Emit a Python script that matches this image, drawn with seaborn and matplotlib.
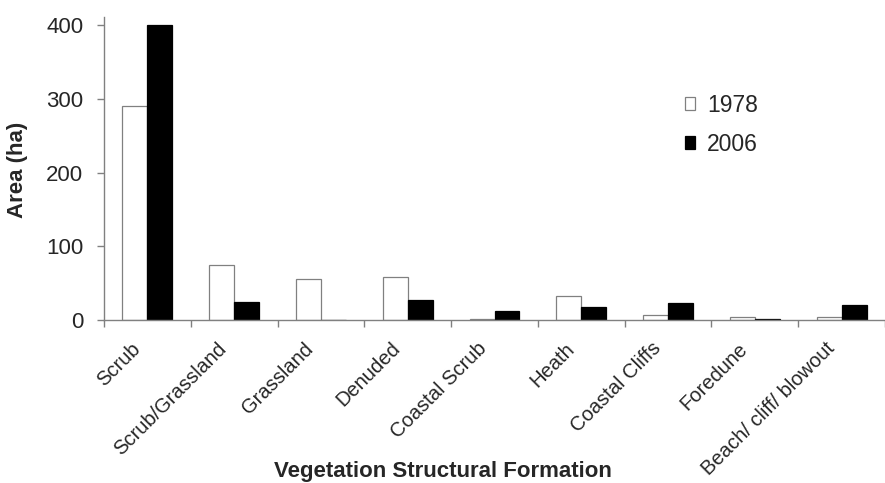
import matplotlib
matplotlib.use("Agg")
import matplotlib.pyplot as plt
import matplotlib.transforms as mtransforms
from matplotlib.ticker import FixedLocator
import seaborn as sns
import pandas as pd

categories = ["Scrub", "Scrub/Grassland", "Grassland", "Denuded", "Coastal Scrub",
              "Heath", "Coastal Cliffs", "Foredune", "Beach/ cliff/ blowout"]
area_1978 = [290, 74, 56, 58, 2, 33, 7, 4.5, 4.5]
area_2006 = [400, 25, 0, 27.5, 12, 17.5, 23, 2, 20]
years = ["1978", "2006"]

df = pd.DataFrame({
    "formation": categories * 2,
    "year": [years[0]] * len(categories) + [years[1]] * len(categories),
    "area": area_1978 + area_2006,
})

sns.set_style("white")
plt.rcParams["font.family"] = ["Liberation Sans", "DejaVu Sans"]

fig = plt.figure(figsize=(8.85, 4.83), dpi=100)
ax = fig.add_axes([104 / 885, 1 - 320 / 483, 781 / 885, 303 / 483])

sns.barplot(data=df, x="formation", y="area", hue="year", order=categories,
            hue_order=years, palette={"1978": "white", "2006": "black"},
            width=0.576, gap=0, edgecolor="black", linewidth=0.9, ax=ax)

# white bars get a grey outline
for p in ax.containers[0]:
    p.set_edgecolor("#808080")

ax.set_xlim(-0.5, len(categories) - 0.5)
ax.set_ylim(0, 411)
ax.set_yticks([0, 100, 200, 300, 400])

grey = "#808080"
sns.despine(ax=ax)
for s in ["left", "bottom"]:
    ax.spines[s].set_color(grey)
    ax.spines[s].set_linewidth(1.0)

ax.tick_params(axis="y", direction="out", length=5, width=1, color=grey,
               labelsize=16, pad=10, left=True)
ax.tick_params(axis="x", which="major", length=0, labelsize=14.5, pad=0)
ax.xaxis.set_minor_locator(FixedLocator([i - 0.5 for i in range(len(categories) + 1)]))
ax.tick_params(axis="x", which="minor", direction="out", length=5, width=1,
               color=grey, bottom=True)

offset = mtransforms.ScaledTranslation(-17 / 100, -19 / 100, fig.dpi_scale_trans)
ax.set_xticks(range(len(categories)))
ax.set_xticklabels(categories, rotation=45, ha="right", va="top",
                   rotation_mode="anchor", fontsize=14.5)
for lab in ax.get_xticklabels():
    lab.set_transform(lab.get_transform() + offset)

ax.set_xlabel("Vegetation Structural Formation", fontsize=16, fontweight="bold")
ax.xaxis.label.set_verticalalignment("baseline")
ax.xaxis.set_label_coords(0.5, 6 / 483, transform=fig.transFigure)
ax.set_ylabel("Area (ha)", fontsize=16, fontweight="bold")
ax.yaxis.set_label_coords(18 / 885, 0.5, transform=fig.transFigure)
ax.yaxis.label.set_verticalalignment("center")
ax.yaxis.label.set_position((18 / 885, 1 - 170 / 483))

leg = ax.legend(loc="center left", bbox_to_anchor=(0.744, 0.645), frameon=False,
                fontsize=16.5, handlelength=0.45, handleheight=0.45,
                handletextpad=0.5, labelspacing=0.7, borderpad=0,
                borderaxespad=0)
leg.get_patches()[0].set_edgecolor(grey)

fig.savefig("out.png", dpi=100)
